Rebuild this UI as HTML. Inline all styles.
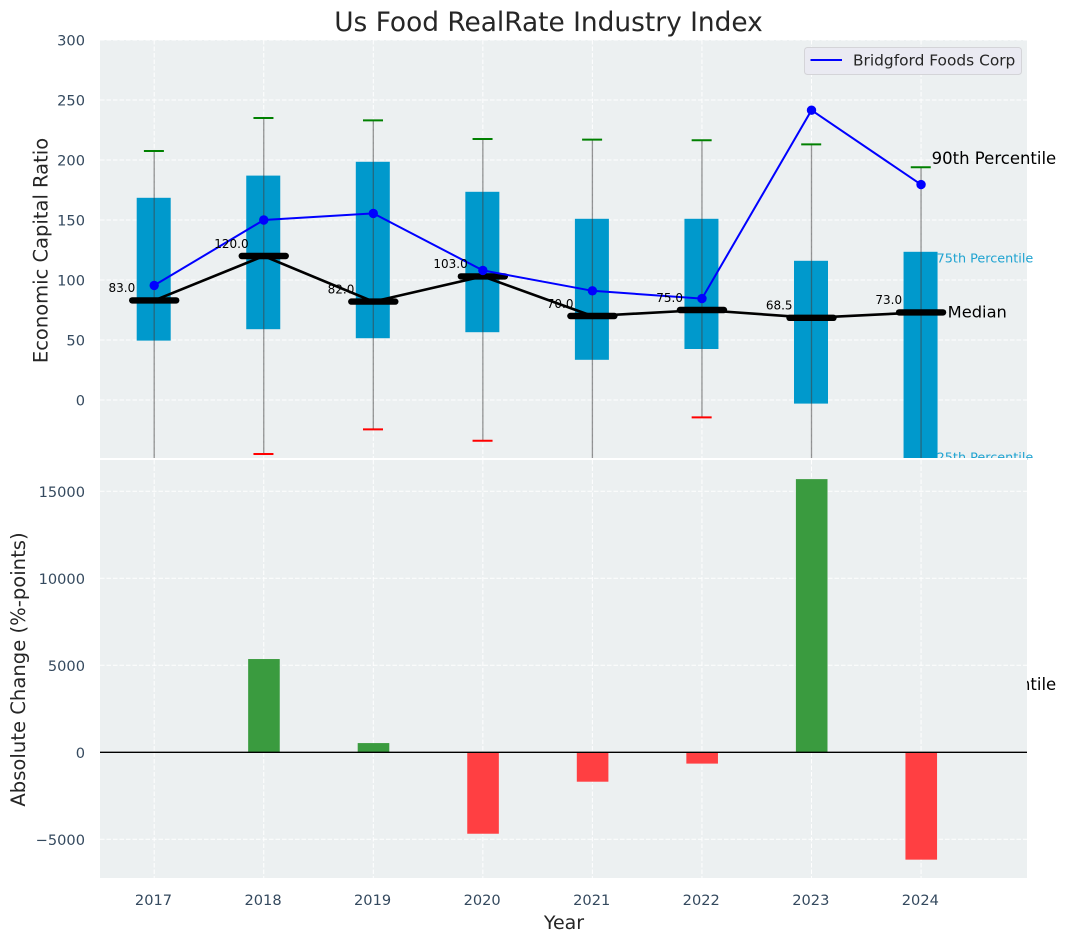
<!DOCTYPE html>
<html lang="en">
<head>
<meta charset="utf-8">
<title>Us Food RealRate Industry Index</title>
<style>
html,body{margin:0;padding:0;background:#fff;width:1067px;height:942px;overflow:hidden}
svg{display:block;font-family:"DejaVu Sans","Liberation Sans",sans-serif}
</style>
</head>
<body>
<svg id="chart" width="1067" height="942" viewBox="0 0 1067 942" xmlns="http://www.w3.org/2000/svg">
  <defs>
    <clipPath id="top-clip"><rect x="100" y="40" width="927" height="418"/></clipPath>
    <clipPath id="bottom-clip"><rect x="100" y="460" width="927" height="418"/></clipPath>
    <clipPath id="fig-clip-25"><rect x="900" y="440" width="167" height="19.5"/></clipPath>
  </defs>
  <text x="548.5" y="31" text-anchor="middle" font-size="26.4" fill="#262626">Us Food RealRate Industry Index</text>
  <rect x="100" y="40" width="927" height="418" fill="#ecf0f1"/>
  <g id="top-grid"></g>
  <g id="top-marks" clip-path="url(#top-clip)"></g>
  <g id="top-notes"></g>
  <rect x="100" y="460" width="927" height="418" fill="#ecf0f1"/>
  <rect x="100" y="458" width="927" height="2" fill="#ffffff"/>
  <g id="bottom-grid"></g>
  <g id="bottom-marks" clip-path="url(#bottom-clip)"></g>
  <g id="ticks" font-size="14.6" fill="#34495e"></g>
  <text transform="translate(47.5,250.5) rotate(-90)" text-anchor="middle" font-size="19.5" fill="#262626">Economic Capital Ratio</text>
  <text transform="translate(25,669.5) rotate(-90)" text-anchor="middle" font-size="19.6" fill="#262626">Absolute Change (%-points)</text>
  <text x="564" y="929" text-anchor="middle" font-size="19" fill="#262626">Year</text>
  <g>
    <rect x="804.5" y="47.5" width="217" height="27" rx="3" fill="#eaeaf2" stroke="#d4d4d8" stroke-width="1"/>
    <line x1="810.5" y1="60" x2="842" y2="60" stroke="#0000ff" stroke-width="2"/>
    <text x="853" y="65.5" font-size="15.4" fill="#262626">Bridgford Foods Corp</text>
  </g>
</svg>
<script>
const years = [2017, 2018, 2019, 2020, 2021, 2022, 2023, 2024];
const p90 = [207.5, 235, 233, 217.5, 217, 216.5, 213, 194];
const p75 = [168.5, 187, 198.5, 173.5, 151, 151, 116, 123.5];
const medians = [83, 120, 82, 103, 70, 75, 68.5, 73];
const p25 = [49.5, 59, 51.5, 56.5, 33.5, 42.5, -3, -60];
const p10 = [-70, -45, -24.5, -34, -75, -14.5, -70, -110];
const company = [95.5, 150, 155.5, 108, 91, 84.5, 241.5, 179.5];
const changes = [0, 5360, 530, -4680, -1690, -650, 15700, -6170];
const topTicks = [0, 50, 100, 150, 200, 250, 300];
const bottomTicks = [-5000, 0, 5000, 10000, 15000];

const NS = 'http://www.w3.org/2000/svg';
function xAt(i) { return 154.2 + 109.55 * (i); }
function yTop(v) { return 400 - 1.2 * v; }
function yBottom(v) { return 752.3 - 0.0174 * v; }
function make(parent, tag, attrs, txt) {
  const el = document.createElementNS(NS, tag);
  for (const k in attrs) el.setAttribute(k, attrs[k]);
  if (txt !== undefined) el.textContent = txt;
  parent.appendChild(el);
  return el;
}
const topGrid = document.getElementById('top-grid');
const bottomGrid = document.getElementById('bottom-grid');
const topMarks = document.getElementById('top-marks');
const bottomMarks = document.getElementById('bottom-marks');
const topNotes = document.getElementById('top-notes');
const ticks = document.getElementById('ticks');
const gridStyle = { stroke: '#ffffff', 'stroke-width': 1, 'stroke-dasharray': '4.5 2', opacity: 0.95 };

years.forEach(function (year, i) {
  const x = xAt(i);
  let el = make(topGrid, 'line', Object.assign({ x1: x, x2: x, y1: 40, y2: 458 }, gridStyle));
  
  
  el = make(bottomGrid, 'line', Object.assign({ x1: x, x2: x, y1: 460, y2: 878 }, gridStyle));
  
  
  el = make(ticks, 'text', { x: x - 0.7, y: 905, 'text-anchor': 'middle' }, String(year));
  
  
});
topTicks.forEach(function (t) {
  const y = yTop(t);
  let el = make(topGrid, 'line', Object.assign({ x1: 100, x2: 1027, y1: y, y2: y }, gridStyle));
  
  
  el = make(ticks, 'text', { x: 85, y: y + 5.5, 'text-anchor': 'end' }, String(t));
  
  
});
bottomTicks.forEach(function (t) {
  const y = yBottom(t);
  let el = make(bottomGrid, 'line', Object.assign({ x1: 100, x2: 1027, y1: y, y2: y }, gridStyle));
  
  
  el = make(ticks, 'text', { x: 85, y: y + 5.5, 'text-anchor': 'end' }, String(t).replace('-', '\u2212'));
  
  
});

/* percentile boxes */
years.forEach(function (year, i) {
  const x = xAt(i);
  const box = make(topMarks, 'rect', {
    x: x - 17.5, width: 34,
    y: yTop(p75[i]), height: yTop(p25[i]) - yTop(p75[i]),
    fill: '#0099cc'
  });
  
  
});
/* whiskers and caps */
years.forEach(function (year, i) {
  const x = xAt(i);
  let el = make(topMarks, 'line', {
    x1: x, x2: x, y1: yTop(p90[i]), y2: yTop(p10[i]),
    stroke: '#404040', 'stroke-opacity': 0.55, 'stroke-width': 1.3
  });
  
  
  el = make(topMarks, 'line', {
    x1: x - 10.3, x2: x + 9.7, y1: yTop(p90[i]), y2: yTop(p90[i]),
    stroke: '#008000', 'stroke-width': 2
  });
  
  
  el = make(topMarks, 'line', {
    x1: x - 10.3, x2: x + 9.7, y1: yTop(p10[i]), y2: yTop(p10[i]),
    stroke: '#ff0000', 'stroke-width': 2
  });
  
  
});
/* median line + bars */
const medianLine = make(topMarks, 'polyline', {
  points: medians.map(function (v, i) { return xAt(i) + ',' + yTop(v); }).join(' '),
  fill: 'none', stroke: '#000000', 'stroke-width': 2.6
});


medians.forEach(function (v, i) {
  const x = xAt(i), y = yTop(v);
  const bar = make(topMarks, 'line', {
    x1: x - 22, x2: x + 22, y1: y, y2: y,
    stroke: '#000000', 'stroke-width': 6.4, 'stroke-linecap': 'round'
  });
  
  
});
/* company line */
const companyLine = make(topMarks, 'polyline', {
  points: company.map(function (v, i) { return xAt(i) + ',' + yTop(v); }).join(' '),
  fill: 'none', stroke: '#0000ff', 'stroke-width': 2
});


company.forEach(function (v, i) {
  const dot = make(topMarks, 'circle', { cx: xAt(i), cy: yTop(v), r: 4.7, fill: '#0000ff' });
  
  
});
/* median labels */
medians.forEach(function (v, i) {
  const lab = make(topMarks, 'text', {
    x: xAt(i) - 32.3, y: yTop(v) - 8.2, 'text-anchor': 'middle', 'font-size': 12, fill: '#000000'
  }, v.toFixed(1));
  
  
});
/* annotations next to the last box */
const last = years.length - 1;
let note = make(topNotes, 'text', { x: xAt(last) + 10.6, y: yTop(p90[last]) - 3, 'font-size': 16.5, fill: '#000000' }, '90th Percentile');


note = make(topNotes, 'text', { x: xAt(last) + 15.6, y: yTop(p75[last]) + 10.5, 'font-size': 12.8, fill: '#1fa3d1' }, '75th Percentile');


note = make(topNotes, 'text', { x: xAt(last) + 26.6, y: yTop(medians[last]) + 5, 'font-size': 16.3, fill: '#000000' }, 'Median');


note = make(topNotes, 'text', { x: xAt(last) + 15.6, y: yTop(p25[last]) - 10.5, 'font-size': 12.8, fill: '#1fa3d1', 'clip-path': 'url(#fig-clip-25)' }, '25th Percentile');


note = make(topNotes, 'text', { x: xAt(last) + 10.6, y: yTop(p10[last]) + 158, 'font-size': 16.5, fill: '#000000' }, '10th Percentile');


/* change bars */
changes.forEach(function (v, i) {
  if (v === 0) return;
  const top = Math.min(yBottom(v), yBottom(0));
  const bar = make(bottomMarks, 'rect', {
    x: xAt(i) - 15.6, width: 31.6,
    y: top, height: Math.abs(yBottom(v) - yBottom(0)),
    fill: v > 0 ? '#3a9b3f' : '#ff3f42'
  });
  
  
});
const zero = make(bottomMarks, 'line', { x1: 100, x2: 1027, y1: yBottom(0), y2: yBottom(0), stroke: '#000000', 'stroke-width': 1.3 });


</script>
</body>
</html>
